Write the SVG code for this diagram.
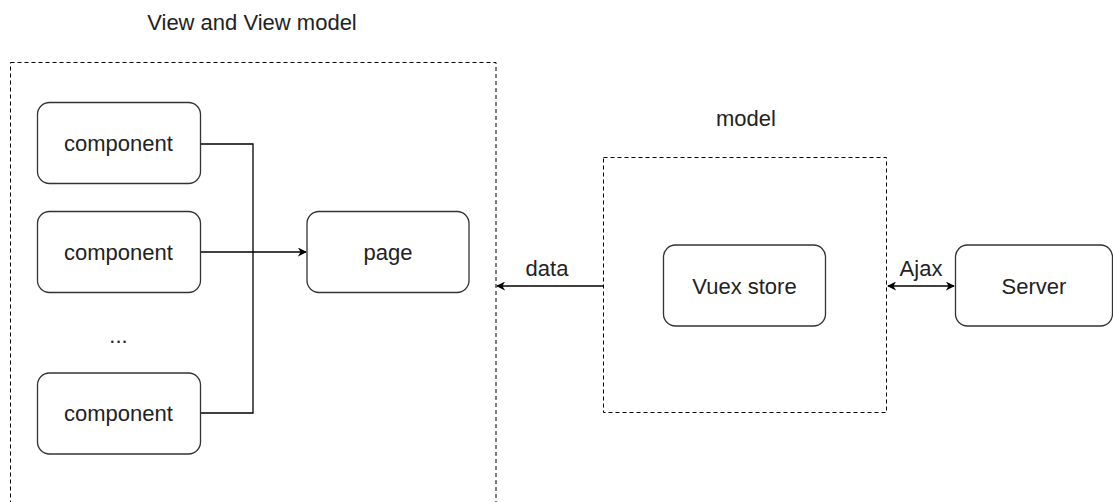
<svg xmlns="http://www.w3.org/2000/svg" width="1113" height="502" viewBox="0 0 1113 502">
<style>
text{font-family:"Liberation Sans",Arial,sans-serif;font-size:22px;fill:#222;text-anchor:middle}
.n{fill:#fff;stroke:#333;stroke-width:1.3}
.g{fill:none;stroke:#000;stroke-width:1;stroke-dasharray:4 3}
.c{fill:none;stroke:#000;stroke-width:1.3}
</style>
<defs>
<marker id="a" viewBox="0 0 10 10" refX="9" refY="5" markerWidth="9" markerHeight="9" orient="auto-start-reverse" markerUnits="userSpaceOnUse"><path d="M0,0 L10,5 L0,10 L3,5 Z" fill="#000"/></marker>
</defs>
<rect width="1113" height="502" fill="#fff"/>
<g id="viewGroup">
<rect class="g" x="10.5" y="62.5" width="485.5" height="460"/>
<text x="252" y="30">View and View model</text>
</g>
<g id="modelGroup">
<rect class="g" x="603.5" y="157.5" width="283" height="255"/>
<text x="746" y="126">model</text>
</g>
<g id="connectors">
<path class="c" d="M200,144 H253 V413 H200"/>
<path class="c" d="M200,252 H306" marker-end="url(#a)"/>
<path class="c" d="M603,286 H497" marker-end="url(#a)"/>
<path class="c" d="M888,286 H954" marker-start="url(#a)" marker-end="url(#a)"/>
<text x="547" y="276">data</text>
<text x="921" y="276">Ajax</text>
</g>
<g id="comp1"><rect class="n" x="37.5" y="102.5" width="163" height="81" rx="12"/><text x="118.5" y="151">component</text></g>
<g id="comp2"><rect class="n" x="37.5" y="211.5" width="163" height="81" rx="12"/><text x="118.5" y="260">component</text></g>
<g id="dots"><text x="118.5" y="343">...</text></g>
<g id="comp3"><rect class="n" x="37.5" y="373" width="163" height="81" rx="12"/><text x="118.5" y="421">component</text></g>
<g id="page"><rect class="n" x="307" y="211.5" width="162" height="81" rx="12"/><text x="388" y="260">page</text></g>
<g id="vuex"><rect class="n" x="663.5" y="245" width="162" height="81" rx="12"/><text x="744.5" y="294">Vuex store</text></g>
<g id="server"><rect class="n" x="955.5" y="245" width="157" height="81" rx="12"/><text x="1034" y="294">Server</text></g>
</svg>
